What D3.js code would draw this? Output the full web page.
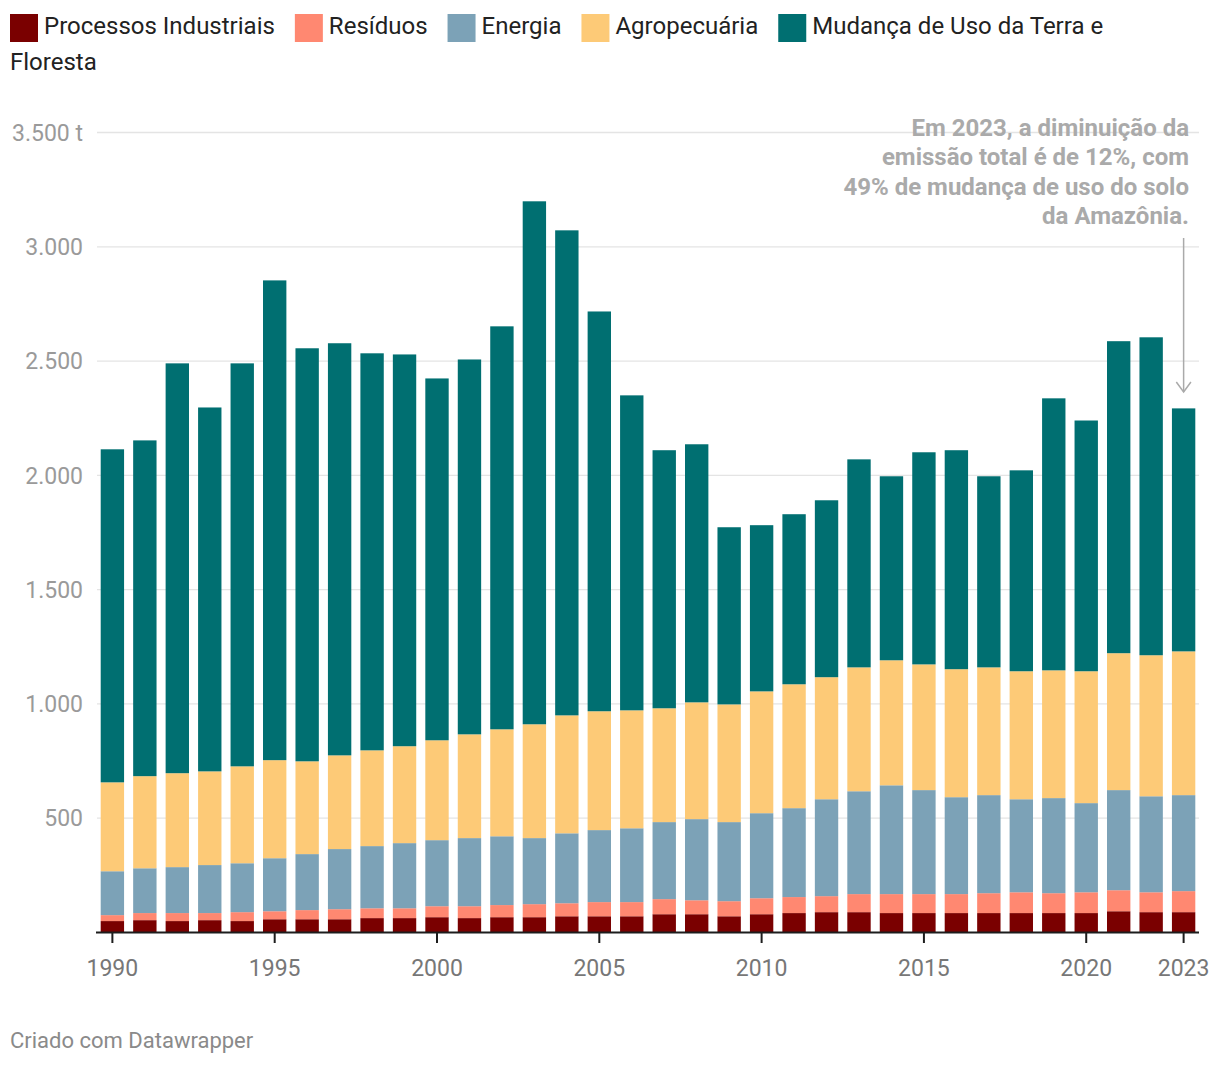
<!DOCTYPE html>
<html>
<head>
<meta charset="utf-8">
<script src="https://cdn.jsdelivr.net/npm/d3@7"></script>
<style>
  html, body { margin: 0; padding: 0; background: #fff; }
  svg { display: block; font-family: Roboto, "Noto Sans", sans-serif; }
</style>
</head>
<body>
<svg id="chart" width="1220" height="1066"></svg>
<script>
const years = d3.range(1990, 2024);
const seriesNames = ["Processos Industriais", "Resíduos", "Energia", "Agropecuária", "Mudança de Uso da Terra e Floresta"];
const seriesColors = ["#7a0000", "#ff8871", "#7ca2b7", "#fdca77", "#006f71"];

const processos = [50,54,50,54,50,58,58,58,63,63,67,63,67,67,71,71,71,80,80,71,80,85,89,89,85,85,85,85,85,85,85,93,89,89];
const residuos  = [26,31,35,31,39,35,40,44,43,43,48,52,53,57,57,62,62,66,61,66,70,70,70,79,83,83,83,87,91,87,91,92,87,92];
const energia   = [192,196,201,210,214,232,245,263,272,285,289,298,301,289,306,315,323,337,355,346,372,389,424,450,476,455,424,429,407,416,390,438,420,420];
const agro      = [389,403,411,410,424,429,406,410,419,424,437,454,468,498,516,520,516,498,511,515,533,542,534,542,547,550,560,559,560,559,577,599,617,629];
const mudanca   = [1457,1469,1793,1592,1763,2099,1807,1803,1737,1714,1583,1640,1763,2288,2122,1749,1378,1129,1129,775,727,744,774,910,805,928,958,836,879,1190,1097,1365,1391,1063];

const yTicks = [500, 1000, 1500, 2000, 2500, 3000, 3500];
const xTickYears = [1990, 1995, 2000, 2005, 2010, 2015, 2020, 2023];
const annotationLines = ["Em 2023, a diminuição da", "emissão total é de 12%, com", "49% de mudança de uso do solo", "da Amazônia."];
const annotationYear = 2023;
const credit = "Criado com Datawrapper";

const seriesValues = [processos, residuos, energia, agro, mudanca];
const keys = seriesNames;
const table = years.map((yr, i) => {
  const row = { year: yr };
  keys.forEach((k, j) => row[k] = seriesValues[j][i]);
  return row;
});

const svg = d3.select("#chart");
const locale = d3.formatLocale({ decimal: ",", thousands: ".", grouping: [3], currency: ["", ""] });
const fmt = locale.format(",d");

const x = d3.scaleBand().domain(years).range([100.7, 1195.3]).paddingInner(0.28).paddingOuter(0);
const y = d3.scaleLinear().domain([0, 3500]).range([932.5, 132.5]);

// gridlines
svg.append("g").selectAll("line").data(yTicks).join("line")
  .attr("x1", 97).attr("x2", 1199)
  .attr("y1", d => y(d)).attr("y2", d => y(d))
  .attr("stroke", "#e4e4e4").attr("stroke-width", 1.3);

// y labels
svg.append("g").selectAll("text").data(yTicks).join("text")
  .attr("x", 83).attr("y", d => y(d))
  .attr("dy", "0.36em")
  .attr("text-anchor", "end")
  .attr("font-size", 23)
  .attr("fill", "#9a9a9a")
  .text(d => d === 3500 ? fmt(d) + " t" : fmt(d));

// stacked bars
const stack = d3.stack().keys(keys)(table);
const color = d3.scaleOrdinal().domain(keys).range(seriesColors);
svg.append("g").selectAll("g").data(stack).join("g")
  .attr("fill", d => color(d.key))
  .selectAll("rect").data(d => d).join("rect")
  .attr("x", d => x(d.data.year))
  .attr("width", x.bandwidth())
  .attr("y", d => y(d[1]))
  .attr("height", d => y(d[0]) - y(d[1]));

// baseline
svg.append("line").attr("x1", 96).attr("x2", 1199).attr("y1", 932.5).attr("y2", 932.5)
  .attr("stroke", "#1d1d1d").attr("stroke-width", 2);

// x ticks and labels
const xg = svg.append("g");
xg.selectAll("line").data(xTickYears).join("line")
  .attr("x1", d => x(d) + x.bandwidth() / 2).attr("x2", d => x(d) + x.bandwidth() / 2)
  .attr("y1", 932).attr("y2", 943)
  .attr("stroke", "#1d1d1d").attr("stroke-width", 2);
xg.selectAll("text").data(xTickYears).join("text")
  .attr("x", d => x(d) + x.bandwidth() / 2).attr("y", 968)
  .attr("dy", "0.36em")
  .attr("text-anchor", "middle")
  .attr("font-size", 23)
  .attr("fill", "#777")
  .text(d => d);

// legend with wrapping
const lg = svg.append("g");
const legendFont = 24;
const measure = svg.append("text").attr("font-size", legendFont).attr("visibility", "hidden");
const tw = s => { measure.text(s); return measure.node().getComputedTextLength(); };
let lx = 10, ly = 33.5;
const maxX = 1150, lineH = 36.5, sq = 28;
seriesNames.forEach((name, i) => {
  const words = name.split(" ");
  if (lx + sq + 7 + tw(words[0]) > maxX) { lx = 10; ly += lineH; }
  lg.append("rect").attr("x", lx).attr("y", ly - 19.5).attr("width", sq).attr("height", sq).attr("fill", seriesColors[i]);
  lx += sq + 6;
  let line = "";
  const emit = (t) => {
    lg.append("text").attr("x", lx).attr("y", ly).attr("font-size", legendFont).attr("fill", "#222").text(t);
  };
  words.forEach(w => {
    const test = line ? line + " " + w : w;
    if (line && lx + tw(test) > maxX) {
      emit(line);
      lx = 10; ly += lineH; line = w;
    } else line = test;
  });
  emit(line);
  lx += tw(line) + 20;
});
measure.remove();

// annotation
const ag = svg.append("g");
ag.selectAll("text").data(annotationLines).join("text")
  .attr("x", 1189).attr("y", (d, i) => 136 + i * 29.3)
  .attr("text-anchor", "end")
  .attr("font-size", 24)
  .attr("font-weight", "bold")
  .attr("fill", "#aaaaaa")
  .text(d => d);
const ax = x(annotationYear) + x.bandwidth() / 2;
ag.append("line").attr("x1", ax).attr("x2", ax).attr("y1", 238).attr("y2", 392)
  .attr("stroke", "#aaaaaa").attr("stroke-width", 1.5);
ag.append("path").attr("d", `M${ax - 7.3},${382} L${ax},${392} L${ax + 7.3},${382}`)
  .attr("fill", "none").attr("stroke", "#aaaaaa").attr("stroke-width", 1.5);

// credit
svg.append("text").attr("x", 10).attr("y", 1040).attr("dy", "0.36em")
  .attr("font-size", 22).attr("fill", "#8a8a8a").text(credit);
</script>
</body>
</html>
